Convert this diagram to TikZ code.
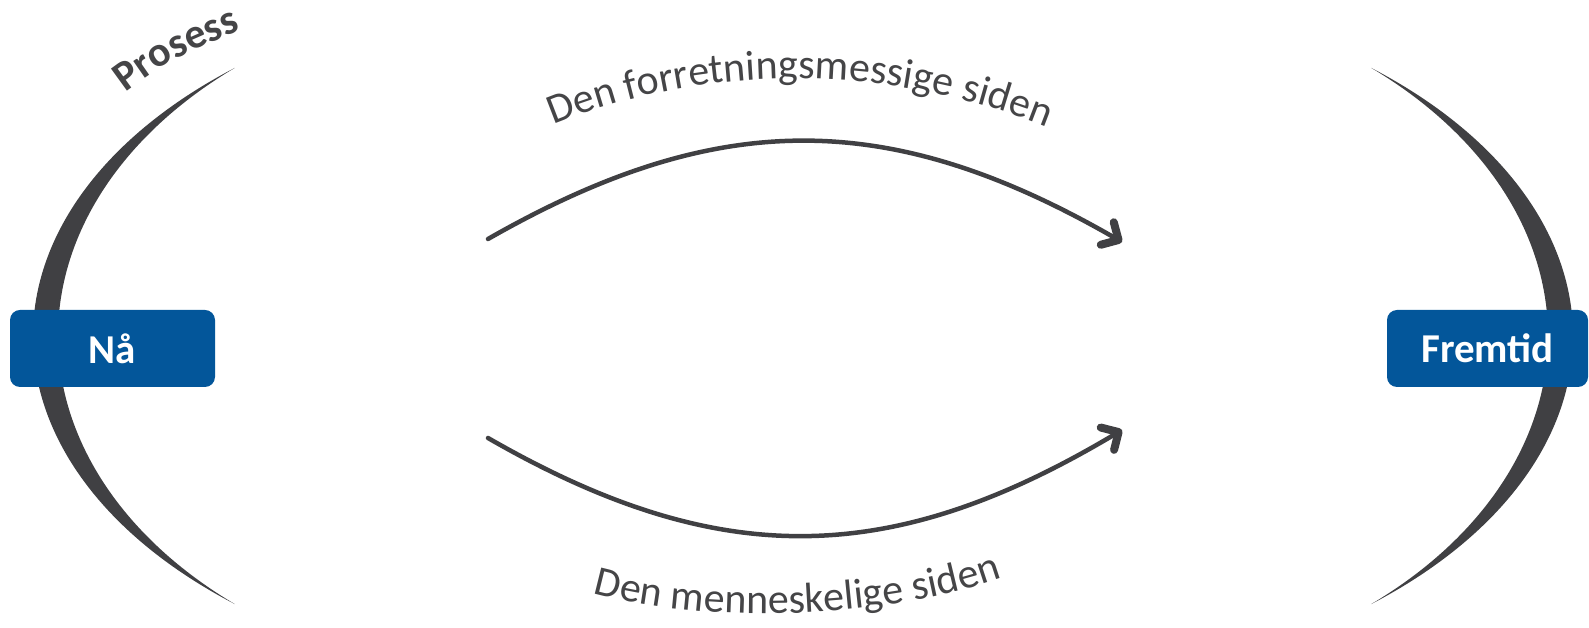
\documentclass[tikz,border=0pt]{standalone}
\usepackage{fontspec}
\setmainfont{Carlito}
\usetikzlibrary{arrows.meta,decorations.text}
\definecolor{boxblue}{HTML}{03569A}
\definecolor{crest}{HTML}{404043}
\definecolor{txt}{HTML}{454547}
\begin{document}
\begin{tikzpicture}[x=1pt,y=1pt,
  stage/.style={fill=boxblue, rounded corners=10pt, minimum width=205pt, minimum height=77pt, text=white, font=\bfseries\fontsize{41}{48}\selectfont, inner sep=0pt},
  crescent/.style={fill=crest},
  flow/.style={draw=crest, line width=4.5pt, line cap=round, -{Straight Barb[length=13pt,width=26pt,line width=8pt,round]}},
  curvetext/.style={decorate, decoration={text along path, text align=center, text color=txt, text={#1}}}]
\useasboundingbox (0,0) rectangle (1589,628);
% crescents
\fill[crescent] (598,292) ++(130:565pt and 350pt) arc[start angle=130,end angle=230,x radius=565pt,y radius=350pt] arc[start angle=230,end angle=130,x radius=495pt,y radius=350pt] -- cycle;
\fill[crescent] (1008,292) ++(50:565pt and 350pt) arc[start angle=50,end angle=-50,x radius=565pt,y radius=350pt] arc[start angle=-50,end angle=50,x radius=495pt,y radius=350pt] -- cycle;
% boxes
\node[stage] (now) at (112.5,279.5) {Nå};
\node[stage, minimum width=201pt] (future) at (1487.5,279.5) {Fremtid};
% arrows
\coordinate (t0) at (488,389);
\coordinate (t1) at (1122,386);
\draw[flow] (t0) .. controls (719,521) and (891,519) .. (t1);
\coordinate (b0) at (488,190);
\coordinate (b1) at (1122,198);
\draw[flow] (b0) .. controls (719,57) and (891,60) .. (b1);
% curved texts
\path[curvetext={|\fontsize{42}{50}\selectfont|Den forretningsmessige siden}] (546,500) .. controls (700,566) and (890,566) .. (1054,498);
\path[curvetext={|\fontsize{42}{50}\selectfont|Den menneskelige siden}] (586,37) .. controls (690,5) and (880,5) .. (1009,53);
\path[curvetext={|\bfseries\fontsize{42}{50}\selectfont|Prosess}] (121,532) .. controls (173,570) .. (246,600);
\end{tikzpicture}
\end{document}
